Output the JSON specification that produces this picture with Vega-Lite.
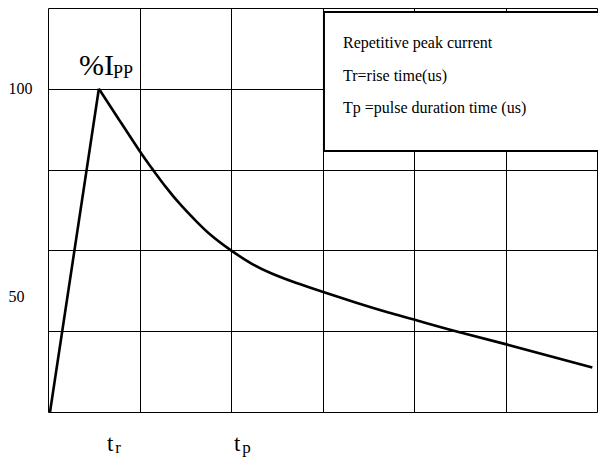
{
  "$schema": "https://vega.github.io/schema/vega-lite/v6.json",
  "width": 549,
  "height": 404,
  "autosize": {"type": "none"},
  "padding": {"left": 48, "top": 8, "right": 1, "bottom": 48},
  "background": "white",
  "config": {"view": {"stroke": null}, "font": "Liberation Serif"},
  "datasets": {
    "curve": [
      {"t": 0.022, "pct": 0, "seg": "rise"},
      {"t": 0.556, "pct": 100, "seg": "rise"},
      {"t": 0.556, "pct": 100, "seg": "decay"},
      {"t": 0.773, "pct": 90.6, "seg": "decay"},
      {"t": 1.005, "pct": 80.6, "seg": "decay"},
      {"t": 1.138, "pct": 75.3, "seg": "decay"},
      {"t": 1.291, "pct": 69.5, "seg": "decay"},
      {"t": 1.456, "pct": 63.9, "seg": "decay"},
      {"t": 1.621, "pct": 59.0, "seg": "decay"},
      {"t": 1.786, "pct": 54.6, "seg": "decay"},
      {"t": 2.0, "pct": 50.0, "seg": "decay"},
      {"t": 2.219, "pct": 46.0, "seg": "decay"},
      {"t": 2.432, "pct": 43.0, "seg": "decay"},
      {"t": 2.716, "pct": 39.9, "seg": "decay"},
      {"t": 3.0, "pct": 37.2, "seg": "decay"},
      {"t": 3.361, "pct": 33.9, "seg": "decay"},
      {"t": 3.721, "pct": 30.8, "seg": "decay"},
      {"t": 4.0, "pct": 28.6, "seg": "decay"},
      {"t": 4.456, "pct": 25.0, "seg": "decay"},
      {"t": 5.0, "pct": 21.0, "seg": "decay"},
      {"t": 5.949, "pct": 13.8, "seg": "decay"}
    ]
  },
  "layer": [
    {
      "data": {"name": "curve"},
      "mark": {"type": "line", "color": "black", "strokeWidth": 2.6, "interpolate": "natural"},
      "encoding": {
        "x": {
          "field": "t", "type": "quantitative",
          "scale": {"domain": [0, 6], "nice": false, "zero": false},
          "axis": {"values": [0, 1, 2, 3, 4, 5, 6], "grid": true, "gridColor": "black", "gridWidth": 1, "gridOpacity": 1, "labels": false, "ticks": false, "domain": false, "title": null}
        },
        "y": {
          "field": "pct", "type": "quantitative",
          "scale": {"domain": [0, 125], "nice": false},
          "axis": {
            "values": [0, 25, 50, 75, 100, 125], "grid": true, "gridColor": "black", "gridWidth": 1, "gridOpacity": 1,
            "labelExpr": "datum.value == 100 ? '100' : datum.value == 50 ? '50' : ''",
            "labelAlign": "left", "labelPadding": 40, "labelFontSize": 16, "labelFont": "Liberation Serif", "labelColor": "black",
            "labelOffset": {"condition": {"test": "datum.value == 50", "value": 46}, "value": 0},
            "ticks": false, "tickSize": 0, "domain": false, "title": null
          }
        },
        "detail": {"field": "seg"}
      }
    },
    {
      "data": {"values": [{"item": "legend box"}]},
      "mark": {"type": "rect", "fill": "white", "stroke": "black", "strokeWidth": 2},
      "encoding": {
        "x": {"datum": 3.016}, "x2": {"datum": 6.3},
        "y": {"datum": 123.8}, "y2": {"datum": 80.75}
      }
    },
    {
      "data": {"values": [{"item": "legend text"}]},
      "mark": {"type": "text", "text": ["Repetitive peak current", "Tr=rise time(us)", "Tp =pulse duration time (us)"], "font": "Liberation Serif", "fontSize": 16, "lineHeight": 32.5, "align": "left", "baseline": "alphabetic", "color": "black"},
      "encoding": {"x": {"datum": 3.224}, "y": {"datum": 112.6}}
    },
    {
      "data": {"values": [{"label": "%I"}]},
      "mark": {"type": "text", "font": "Liberation Serif", "fontSize": 30, "align": "left", "baseline": "alphabetic", "color": "black"},
      "encoding": {"text": {"field": "label"}, "x": {"datum": 0.339}, "y": {"datum": 104.3}}
    },
    {
      "data": {"values": [{"label": "PP"}]},
      "mark": {"type": "text", "font": "Liberation Serif", "fontSize": 18, "align": "left", "baseline": "alphabetic", "color": "black"},
      "encoding": {"text": {"field": "label"}, "x": {"datum": 0.71}, "y": {"datum": 103.3}}
    },
    {
      "data": {"values": [{"label": "t", "pos": 0.645}, {"label": "t", "pos": 2.033}]},
      "mark": {"type": "text", "font": "Liberation Serif", "fontSize": 23, "align": "left", "baseline": "alphabetic", "color": "black"},
      "encoding": {"text": {"field": "label"}, "x": {"field": "pos", "type": "quantitative"}, "y": {"datum": -12.1}}
    },
    {
      "data": {"values": [{"label": "r", "pos": 0.735}, {"label": "p", "pos": 2.123}]},
      "mark": {"type": "text", "font": "Liberation Serif", "fontSize": 17, "align": "left", "baseline": "alphabetic", "color": "black"},
      "encoding": {"text": {"field": "label"}, "x": {"field": "pos", "type": "quantitative"}, "y": {"datum": -12.7}}
    }
  ]
}
